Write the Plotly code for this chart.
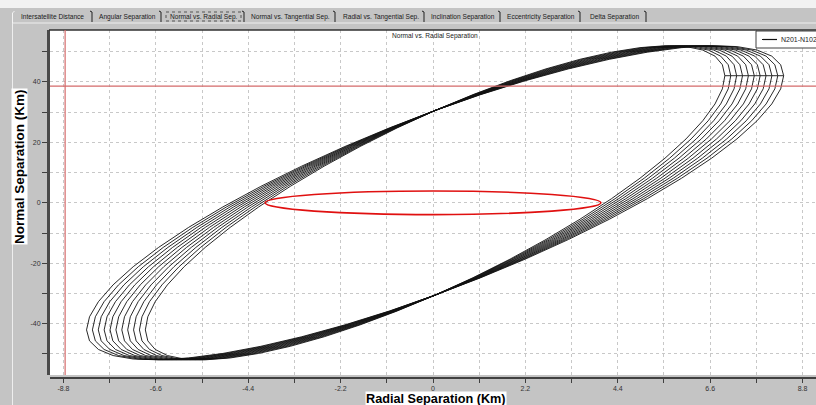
import numpy as np
import plotly.graph_objects as go

# ---------------- data ----------------
# radial amplitude of each revolution of the N201-N102 relative orbit (km)
radial_amp_km = [6.90, 7.04, 7.18, 7.32, 7.46, 7.60, 7.74, 7.88, 8.02, 8.16, 8.30]
radial_center_km = 0.05
normal_amp_km = 52.0          # normal amplitude (km), same for every revolution
phase_deg = 36.0              # phase lag of normal vs radial motion
samples_per_rev = 48

keepout_radial_km = 4.0       # red keep-out ellipse semi-axes
keepout_normal_km = 3.9
radial_limit_km = -8.76       # red limit lines
normal_limit_km = 38.6

x_tick_vals = [-8.8, -7.7, -6.6, -5.5, -4.4, -3.3, -2.2, -1.1, 0.0, 1.1, 2.2, 3.3, 4.4, 5.5, 6.6, 7.7, 8.8]
x_tick_text = ["-8.8", "", "-6.6", "", "-4.4", "", "-2.2", "", "0", "", "2.2", "", "4.4", "", "6.6", "", "8.8"]
y_tick_vals = [-50, -40, -30, -20, -10, 0, 10, 20, 30, 40, 50]
y_tick_text = ["", "-40", "", "-20", "", "0", "", "20", "", "40", ""]

tab_labels = ["Intersatellite Distance", "Angular Separation", "Normal vs. Radial Sep.",
              "Normal vs. Tangential Sep.", "Radial vs. Tangential Sep.", "Inclination Separation",
              "Eccentricity Separation", "Delta Separation"]
selected_tab = 2
series_name = "N201-N102"
chart_title = "Normal vs. Radial Separation"

# ---------------- build trajectory ----------------
xs, ys = [], []
phi = np.deg2rad(phase_deg)
for a in radial_amp_km:
    th = np.linspace(0, 2 * np.pi, samples_per_rev + 1)
    xs.extend((radial_center_km + a * np.cos(th)).tolist())
    ys.extend((normal_amp_km * np.cos(th - phi)).tolist())

# ---------------- layout geometry ----------------
W, H = 816, 405
ML, MR, MT, MB = 50, 0, 30, 27
PW, PH = W - ML - MR, H - MT - MB


def px_x(p):
    return (p - ML) / PW


def px_y(p):
    return (H - MB - p) / PH


FONT = "Liberation Sans, Arial, sans-serif"
BG = "#c4c4c4"

fig = go.Figure()
fig.add_trace(go.Scatter(x=xs, y=ys, mode="lines", name=series_name,
                         line=dict(color="#111111", width=0.9), showlegend=False,
                         hoverinfo="skip"))

shapes = []
annotations = []

# top light strip
shapes.append(dict(type="rect", xref="paper", yref="paper", x0=px_x(0), x1=px_x(W), y0=px_y(0), y1=px_y(8),
                   fillcolor="#f2f2f2", line=dict(width=0), layer="below"))
# panel borders
shapes.append(dict(type="line", xref="paper", yref="paper", x0=px_x(12), x1=px_x(W), y0=px_y(23), y1=px_y(23),
                   line=dict(color="#eeeeee", width=1)))
shapes.append(dict(type="line", xref="paper", yref="paper", x0=px_x(12.5), x1=px_x(12.5), y0=px_y(23), y1=px_y(H),
                   line=dict(color="#eeeeee", width=1)))

# tabs
tab_edges = [12, 93, 162, 245, 336, 425, 501, 581, 647]
for i, lab in enumerate(tab_labels):
    x0, x1 = tab_edges[i], tab_edges[i + 1]
    shapes.append(dict(type="path", xref="paper", yref="paper",
                       path=f"M {px_x(x1 - 3)} {px_y(11)} L {px_x(x1 - 1)} {px_y(12)} L {px_x(x1 - 1)} {px_y(22)}",
                       line=dict(color="#202020", width=1)))
    if i == 0:
        shapes.append(dict(type="path", xref="paper", yref="paper",
                           path=f"M {px_x(x0 + 0.5)} {px_y(23)} L {px_x(x0 + 0.5)} {px_y(13)} L {px_x(x0 + 2.5)} {px_y(11)}",
                           line=dict(color="#f4f4f4", width=1)))
    annotations.append(dict(text=lab, xref="paper", yref="paper", x=px_x((x0 + x1) / 2), y=px_y(16.5),
                            showarrow=False, xanchor="center", yanchor="middle",
                            font=dict(family=FONT, size=6.6, color="#1a1a1a")))
    if i == selected_tab:
        shapes.append(dict(type="rect", xref="paper", yref="paper", x0=px_x(x0 + 4), x1=px_x(x1 - 4),
                           y0=px_y(21), y1=px_y(12), line=dict(color="#555555", width=1, dash="dot")))

# plot frame top line
shapes.append(dict(type="line", xref="paper", yref="paper", x0=px_x(49), x1=px_x(W), y0=px_y(30), y1=px_y(30),
                   line=dict(color="#303030", width=1.5)))

# red limit lines and keep-out ellipse
shapes.append(dict(type="line", xref="x", yref="y domain", x0=radial_limit_km, x1=radial_limit_km, y0=0, y1=1,
                   line=dict(color="#d46a6a", width=1.2)))
shapes.append(dict(type="line", xref="x domain", yref="y", x0=0, x1=1, y0=normal_limit_km, y1=normal_limit_km,
                   line=dict(color="#d46a6a", width=1.2)))
shapes.append(dict(type="circle", xref="x", yref="y", x0=-keepout_radial_km, x1=keepout_radial_km,
                   y0=-keepout_normal_km, y1=keepout_normal_km, line=dict(color="#e01010", width=1.6)))

# manual legend
shapes.append(dict(type="rect", xref="paper", yref="paper", x0=px_x(756), x1=px_x(820), y0=px_y(48), y1=px_y(31),
                   fillcolor="white", line=dict(color="#404040", width=1)))
shapes.append(dict(type="line", xref="paper", yref="paper", x0=px_x(762), x1=px_x(777), y0=px_y(39.5), y1=px_y(39.5),
                   line=dict(color="#111111", width=1.2)))
annotations.append(dict(text=series_name, xref="paper", yref="paper", x=px_x(779), y=px_y(39.5),
                        showarrow=False, xanchor="left", yanchor="middle",
                        font=dict(family=FONT, size=7, color="#222222")))

# chart title
annotations.append(dict(text=chart_title, xref="paper", yref="paper", x=px_x(435), y=px_y(36),
                        showarrow=False, xanchor="center", yanchor="middle",
                        font=dict(family=FONT, size=6.6, color="#222222")))

# axis titles with white background
annotations.append(dict(text="<b>Radial Separation (Km)</b>", xref="paper", yref="paper", x=px_x(436), y=px_y(398.5),
                        showarrow=False, xanchor="center", yanchor="middle", bgcolor="white", borderpad=0,
                        font=dict(family=FONT, size=12.7, color="#000000")))
annotations.append(dict(text="<b>Normal Separation (Km)</b>", xref="paper", yref="paper", x=px_x(19), y=px_y(167),
                        showarrow=False, xanchor="center", yanchor="middle", bgcolor="white", borderpad=0,
                        textangle=-90, font=dict(family=FONT, size=13.5, color="#000000")))

fig.update_layout(
    width=W, height=H,
    margin=dict(l=ML, r=MR, t=MT, b=MB, pad=0),
    paper_bgcolor=BG, plot_bgcolor="white",
    font=dict(family=FONT, size=7, color="#333333"),
    showlegend=False,
    shapes=shapes, annotations=annotations,
    xaxis=dict(range=[-9.12, 9.12], anchor="free", position=0, tickvals=x_tick_vals, ticktext=x_tick_text,
               ticks="outside", ticklen=4, tickcolor="#404040", showline=True, linecolor="#404040", linewidth=2,
               showgrid=True, gridcolor="#c8c8c8", griddash="dot", gridwidth=1, zeroline=False,
               tickfont=dict(family=FONT, size=7, color="#333333"), fixedrange=True),
    yaxis=dict(range=[-57.0, 57.2], domain=[3 / PH, 1], tickvals=y_tick_vals, ticktext=y_tick_text,
               ticks="outside", ticklen=5, tickcolor="#404040", showline=True, linecolor="#4a4a4a", linewidth=3,
               showgrid=True, gridcolor="#c8c8c8", griddash="dot", gridwidth=1, zeroline=False,
               tickfont=dict(family=FONT, size=7, color="#333333"), fixedrange=True),
)

fig.write_html("out.html", config={"displayModeBar": False},
               post_script="document.body.style.margin='0';document.body.style.overflow='hidden';")
